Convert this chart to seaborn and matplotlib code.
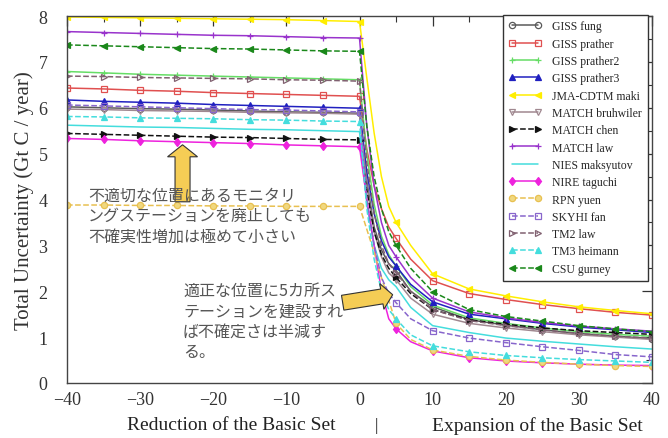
import matplotlib
matplotlib.use("Agg")
import matplotlib.pyplot as plt
import matplotlib.transforms as mtransforms
from matplotlib.patches import FancyArrow
from matplotlib.ticker import MultipleLocator
import seaborn as sns

# ---------------- data ----------------
x_vals = [-40, -35, -30, -25, -20, -15, -10, -5, 0,
          1, 2, 3, 4, 5, 7, 10, 15, 20, 25, 30, 35, 40]

models = ["GISS fung", "GISS prather", "GISS prather2", "GISS prather3",
          "JMA-CDTM maki", "MATCH bruhwiler", "MATCH chen", "MATCH law",
          "NIES maksyutov", "NIRE taguchi", "RPN yuen", "SKYHI fan",
          "TM2 law", "TM3 heimann", "CSU gurney"]

giss_fung = [6.02, 6.00, 5.98, 5.97, 5.95, 5.93, 5.91, 5.90, 5.88,
             4.4, 3.4, 2.9, 2.6, 2.45, 2.0, 1.66, 1.38, 1.26, 1.16, 1.08, 1.02, 0.97]
giss_prather = [6.43, 6.41, 6.38, 6.36, 6.33, 6.31, 6.29, 6.27, 6.25,
                5.1, 4.3, 3.8, 3.4, 3.15, 2.7, 2.23, 1.95, 1.82, 1.71, 1.62, 1.54, 1.48]
giss_prather2 = [6.79, 6.76, 6.73, 6.71, 6.69, 6.67, 6.65, 6.63, 6.61,
                 5.0, 3.9, 3.2, 2.8, 2.55, 2.1, 1.7, 1.42, 1.3, 1.2, 1.12, 1.06, 1.02]
giss_prather3 = [6.17, 6.14, 6.12, 6.10, 6.07, 6.05, 6.03, 6.01, 5.99,
                 4.6, 3.7, 3.1, 2.75, 2.55, 2.15, 1.77, 1.5, 1.4, 1.3, 1.22, 1.16, 1.10]
jma_cdtm = [7.98, 7.97, 7.96, 7.95, 7.94, 7.93, 7.92, 7.90, 7.88,
            6.65, 5.45, 4.5, 3.85, 3.5, 3.0, 2.38, 2.05, 1.9, 1.77, 1.66, 1.58, 1.51]
match_bruhwiler = [5.97, 5.96, 5.94, 5.93, 5.92, 5.90, 5.89, 5.88, 5.86,
                   4.3, 3.3, 2.75, 2.4, 2.25, 1.85, 1.5, 1.3, 1.2, 1.12, 1.05, 1.0, 0.95]
match_chen = [5.44, 5.42, 5.40, 5.38, 5.36, 5.35, 5.33, 5.31, 5.30,
              4.2, 3.3, 2.8, 2.5, 2.3, 1.95, 1.6, 1.38, 1.28, 1.2, 1.14, 1.1, 1.06]
match_law = [7.66, 7.64, 7.62, 7.60, 7.58, 7.57, 7.55, 7.53, 7.52,
             5.6, 4.3, 3.5, 3.0, 2.75, 2.3, 1.85, 1.55, 1.42, 1.32, 1.24, 1.18, 1.13]
nies_maksyutov = [5.62, 5.60, 5.58, 5.57, 5.55, 5.53, 5.52, 5.50, 5.48,
                  3.9, 3.0, 2.5, 2.25, 2.1, 1.65, 1.25, 1.1, 0.98, 0.91, 0.85, 0.79, 0.74]
nire_taguchi = [5.33, 5.31, 5.28, 5.26, 5.24, 5.22, 5.19, 5.17, 5.15,
                4.0, 3.0, 2.0, 1.4, 1.18, 0.9, 0.7, 0.55, 0.48, 0.44, 0.41, 0.39, 0.38]
rpn_yuen = [3.88, 3.88, 3.87, 3.87, 3.86, 3.86, 3.85, 3.85, 3.85,
            3.35, 2.85, 2.3, 1.8, 1.3, 0.95, 0.72, 0.58, 0.5, 0.45, 0.41, 0.38, 0.36]
skyhi_fan = [6.06, 6.04, 6.02, 6.00, 5.98, 5.96, 5.95, 5.93, 5.91,
             4.0, 3.0, 2.3, 1.95, 1.75, 1.4, 1.14, 0.98, 0.88, 0.79, 0.71, 0.62, 0.57]
tm2_law = [6.69, 6.68, 6.66, 6.65, 6.64, 6.63, 6.61, 6.60, 6.58,
           4.8, 3.7, 3.0, 2.6, 2.4, 2.0, 1.6, 1.36, 1.25, 1.16, 1.08, 1.02, 0.98]
tm3_heimann = [5.81, 5.80, 5.78, 5.77, 5.76, 5.74, 5.73, 5.71, 5.70,
               3.8, 2.7, 2.0, 1.6, 1.4, 1.05, 0.81, 0.68, 0.6, 0.55, 0.51, 0.48, 0.45]
csu_gurney = [7.37, 7.35, 7.33, 7.31, 7.29, 7.28, 7.26, 7.24, 7.23,
              5.6, 4.5, 3.8, 3.3, 3.0, 2.5, 1.99, 1.6, 1.45, 1.35, 1.25, 1.18, 1.12]

series = [giss_fung, giss_prather, giss_prather2, giss_prather3, jma_cdtm,
          match_bruhwiler, match_chen, match_law, nies_maksyutov, nire_taguchi,
          rpn_yuen, skyhi_fan, tm2_law, tm3_heimann, csu_gurney]

x_ticks = [-40, -30, -20, -10, 0, 10, 20, 30, 40]
y_ticks = [0, 1, 2, 3, 4, 5, 6, 7, 8]

note_reduce = "不適切な位置にあるモニタリ\nングステーションを廃止しても\n不確実性増加は極めて小さい"
note_expand = "適正な位置に5カ所ス\nテーションを建設すれ\nば不確定さは半減す\nる。"

# ---------------- styles ----------------
styles = [
    dict(color="#5a5a5a", marker="o", ls="-", mfc="none"),
    dict(color="#e05050", marker="s", ls="-", mfc="none"),
    dict(color="#66dd66", marker="+", ls="-", mfc="none"),
    dict(color="#2020c0", marker="^", ls="-", mfc="#2020c0"),
    dict(color="#ffee00", marker="<", ls="-", mfc="#ffee00"),
    dict(color="#a08890", marker="v", ls="-", mfc="none"),
    dict(color="#111111", marker=">", ls="--", mfc="#111111"),
    dict(color="#9933cc", marker="+", ls="-", mfc="none"),
    dict(color="#44dddd", marker="", ls="-", mfc="none"),
    dict(color="#ee22dd", marker="d", ls="-", mfc="#ee22dd"),
    dict(color="#e8c050", marker="o", ls="--", mfc="#f0d880"),
    dict(color="#8866cc", marker="s", ls="--", mfc="none"),
    dict(color="#806070", marker=">", ls="--", mfc="none"),
    dict(color="#44dddd", marker="^", ls="--", mfc="#44dddd"),
    dict(color="#1a881a", marker="<", ls="--", mfc="#1a881a"),
]

sns.set_style("white")
plt.rcParams["font.family"] = ["Liberation Serif", "DejaVu Serif"]

fig = plt.figure(figsize=(6.68, 4.39), dpi=100)
ax = fig.add_axes([67 / 668, 1 - 384 / 439, (652 - 67) / 668, (384 - 17) / 439])

mark_idx = [i for i, xv in enumerate(x_vals) if xv % 5 == 0]

for name, vals, st in zip(models, series, styles):
    sns.lineplot(x=x_vals, y=vals, ax=ax, color=st["color"], linestyle=st["ls"],
                 marker=st["marker"] if st["marker"] else None,
                 markersize=4.5, markevery=mark_idx,
                 markerfacecolor=st["mfc"], markeredgecolor=st["color"],
                 markeredgewidth=0.9, linewidth=1.1, label=name)

ax.set_xlim(-40, 40)
ax.set_ylim(0, 8)
ax.set_xticks(x_ticks)
ax.set_yticks(y_ticks)
ax.xaxis.set_minor_locator(MultipleLocator(5))
ax.yaxis.set_minor_locator(MultipleLocator(0.5))
ax.tick_params(which="both", direction="in", top=True, right=True,
               labelsize=13, colors="#333333")
ax.tick_params(axis="y", which="major", pad=14)
ax.tick_params(axis="x", which="major", pad=6)
ax.tick_params(which="major", length=7, width=0.9)
ax.tick_params(which="minor", length=4, width=0.8)
for sp in ax.spines.values():
    sp.set_color("#444444")
    sp.set_linewidth(1.0)

ax.set_xlabel("")
ax.set_ylabel("Total Uncertainty (Gt C / year)", fontsize=15, color="#333333",
              labelpad=3)

fig.text(231 / 668, 1 - 426 / 439, "Reduction of the Basic Set", ha="center",
         va="center", fontsize=14, color="#222222")
fig.text(376 / 668, 1 - 426 / 439, "|", ha="center", va="center",
         fontsize=12, color="#222222")
fig.text(537 / 668, 1 - 426 / 439, "Expansion of the Basic Set", ha="center",
         va="center", fontsize=14, color="#222222")

leg = ax.legend(loc="upper right", bbox_to_anchor=(0.993, 1.004), fontsize=8.5,
                frameon=True, fancybox=False, edgecolor="#333333",
                framealpha=1, numpoints=2, handlelength=2.8,
                handletextpad=0.9, labelspacing=0.45, borderpad=0.5,
                borderaxespad=0)
leg.get_frame().set_linewidth(1.0)

# annotations
jp = ["Noto Sans CJK JP", "DejaVu Sans"]

arrow_kw = dict(facecolor="#f5cd55", edgecolor="#333333", linewidth=0.8,
                length_includes_head=True, zorder=6)

# up arrow anchored at data point (-24.2, 3.95)
t_up = fig.dpi_scale_trans + mtransforms.ScaledTranslation(-24.2, 3.95, ax.transData)
ax.add_patch(FancyArrow(0, 0, 0, 0.57, width=0.15, head_width=0.30,
                        head_length=0.12, transform=t_up, **arrow_kw))

# right arrow anchored at data point (-2.3, 1.75)
t_rt = fig.dpi_scale_trans + mtransforms.ScaledTranslation(-2.3, 1.75, ax.transData)
ax.add_patch(FancyArrow(0, 0, 0.50, 0.08, width=0.15, head_width=0.26,
                        head_length=0.11, transform=t_rt, **arrow_kw))

fig.text(88 / 668, 1 - 188 / 439, note_reduce, ha="left", va="top",
         fontsize=11.5, color="#555555", family=jp, linespacing=1.25, zorder=7)
fig.text(183 / 668, 1 - 283 / 439, note_expand, ha="left", va="top",
         fontsize=11.5, color="#555555", family=jp, linespacing=1.25, zorder=7)

fig.savefig("out.png", dpi=100)
